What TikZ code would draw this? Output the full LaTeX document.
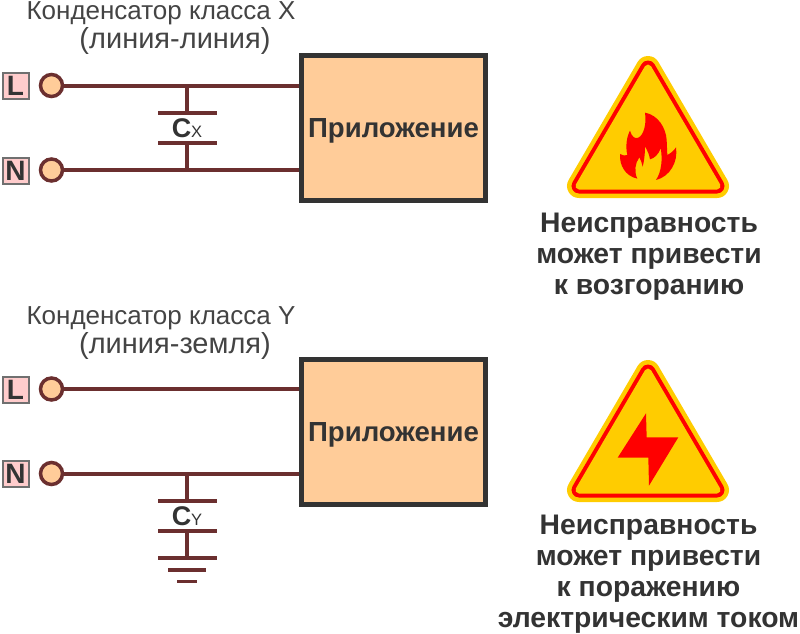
\documentclass[tikz,border=0pt]{standalone}
\usepackage{fontspec}
\setmainfont{Liberation Sans}
\definecolor{wire}{HTML}{6B2F2F}
\definecolor{dark}{HTML}{333333}
\definecolor{ttlc}{HTML}{444444}
\definecolor{boxfill}{HTML}{FFCC99}
\definecolor{pinkfill}{HTML}{FFCCCC}
\definecolor{signy}{HTML}{FFCC00}
\definecolor{signr}{HTML}{FF0000}
\tikzset{
 appbox/.style={draw=dark,line width=5pt,fill=boxfill,minimum width=184pt,minimum height=145pt,inner sep=0pt,font=\fontsize{27.6}{27.6}\selectfont\bfseries,text=dark},
 term/.style={circle,draw=wire,line width=3.5pt,fill=boxfill,minimum size=22pt,inner sep=0pt},
 tag/.style={draw=dark!70,line width=2pt,fill=pinkfill,minimum size=26pt,inner sep=0pt,font=\fontsize{28}{28}\selectfont\bfseries,text=dark},
 wireline/.style={draw=wire,line width=4pt},
 plate/.style={draw=wire,line width=3.5pt},
 ttla/.style={font=\fontsize{26}{26}\selectfont,text=ttlc,inner sep=0pt,anchor=base},
 ttlb/.style={font=\fontsize{29}{29}\selectfont,text=ttlc,inner sep=0pt,anchor=base},
 warn/.style={align=center,font=\fontsize{28.3}{31}\selectfont\bfseries,text=dark,inner sep=0pt},
 capl/.style={font=\fontsize{27}{27}\selectfont\bfseries,text=dark,inner sep=0pt},
 sign y/.style={draw=signy,line width=24pt,line join=round,fill=signy},
 sign r/.style={draw=signr,line width=15pt,line join=round},
 sign c/.style={draw=signy,line width=7pt,line join=round,fill=signy},
}
\newcommand{\warnsign}[1]{%
 \begin{scope}[yshift=#1]
 \draw[sign y] (648,68) -- (579,186) -- (717,186) -- cycle;
 \draw[sign r] (648,68) -- (579,186) -- (717,186) -- cycle;
 \draw[sign c] (648,68) -- (579,186) -- (717,186) -- cycle;
 \end{scope}}
\begin{document}
\begin{tikzpicture}[x=1pt,y=-1pt]
\useasboundingbox (0,0) rectangle (800,633);
% top
\node[ttla] (t1) at (161,19) {Конденсатор класса X};
\node[ttlb] (t1b) at (175,48.5) {(линия-линия)};
\node[appbox] (a1) at (393.5,128) {\raisebox{-9.5pt}[0pt][0pt]{Приложение}};
\node[term] (l1) at (51.5,85.5) {};
\node[term] (n1) at (51.5,170) {};
\node[tag] (tl1) at (15.5,86) {L};
\node[tag] (tn1) at (15.5,170.5) {N};
\coordinate (al1) at (a1.west |- l1);
\coordinate (an1) at (a1.west |- n1);
\coordinate (jl1) at (187,85.5);
\coordinate (jn1) at (187,170);
\coordinate (p1a) at (187,113);
\coordinate (p1b) at (187,143);
\draw[wireline] (l1) -- (al1);
\draw[wireline] (n1) -- (an1);
\draw[wireline] (jl1) -- (p1a);
\draw[wireline] (jn1) -- (p1b);
\draw[plate] (158,113) -- (217,113);
\draw[plate] (158,143) -- (217,143);
\node[capl,anchor=base] (c1) at (187,137) {C\fontsize{16.5}{16.5}\selectfont\mdseries X};
% bottom
\node[ttla] (t2) at (161,324) {Конденсатор класса Y};
\node[ttlb] (t2b) at (175,353) {(линия-земля)};
\node[appbox] (a2) at (393.5,431.5) {\raisebox{-9.5pt}[0pt][0pt]{Приложение}};
\node[term] (l2) at (51.5,389) {};
\node[term] (n2) at (51.5,473.5) {};
\node[tag] (tl2) at (15.5,389.5) {L};
\node[tag] (tn2) at (15.5,474) {N};
\coordinate (al2) at (a2.west |- l2);
\coordinate (an2) at (a2.west |- n2);
\coordinate (jn2) at (187,473.5);
\coordinate (p2a) at (187,501);
\coordinate (p2b) at (187,531);
\coordinate (p2c) at (187,558);
\draw[wireline] (l2) -- (al2);
\draw[wireline] (n2) -- (an2);
\draw[wireline] (jn2) -- (p2a);
\draw[wireline] (p2b) -- (p2c);
\draw[plate] (158,501) -- (217,501);
\draw[plate] (158,531) -- (217,531);
\draw[plate] (158,558) -- (217,558);
\draw[plate] (168,570) -- (206,570);
\draw[plate] (177,581.5) -- (197,581.5);
\node[capl,anchor=base] (c2) at (187,525) {C\fontsize{16.5}{16.5}\selectfont\mdseries Y};
% sign 1
\warnsign{0pt}
\begin{scope}[shift={(550,40)},x=0.3333pt,y=0.3333pt]
\fill[signr] (285,-218) .. controls (325,-225) and (348,-265) .. (350,-300)
 -- (352,-345) .. controls (362,-340) and (372,-332) .. (378,-322)
 .. controls (385,-365) and (360,-410) .. (318,-420)
 .. controls (335,-395) and (338,-355) .. (332,-325)
 .. controls (325,-345) and (312,-355) .. (300,-358)
 .. controls (298,-345) and (292,-330) .. (285,-320)
 .. controls (285,-345) and (282,-365) .. (278,-380)
 .. controls (275,-368) and (272,-358) .. (268,-352)
 .. controls (255,-370) and (252,-395) .. (262,-416)
 .. controls (225,-408) and (208,-375) .. (210,-342)
 .. controls (218,-347) and (226,-348) .. (232,-345)
 .. controls (226,-320) and (230,-290) .. (240,-272)
 .. controls (245,-290) and (255,-298) .. (265,-293)
 .. controls (282,-285) and (290,-250) .. (285,-218) -- cycle;
\end{scope}
\node[warn] (w1) at (649,256.5) {Неисправность\\может привести\\к возгоранию};
% sign 2
\warnsign{-304pt}
\begin{scope}[shift={(550,345)},x=0.3333pt,y=0.3333pt]
\fill[signr] (288,-205) -- (203,-338) -- (295,-338) -- (297,-422) -- (385,-277) -- (290,-277) -- cycle;
\end{scope}
\node[warn] (w2) at (648.5,574.5) {Неисправность\\может привести\\к поражению\\электрическим током};
\end{tikzpicture}
\end{document}
